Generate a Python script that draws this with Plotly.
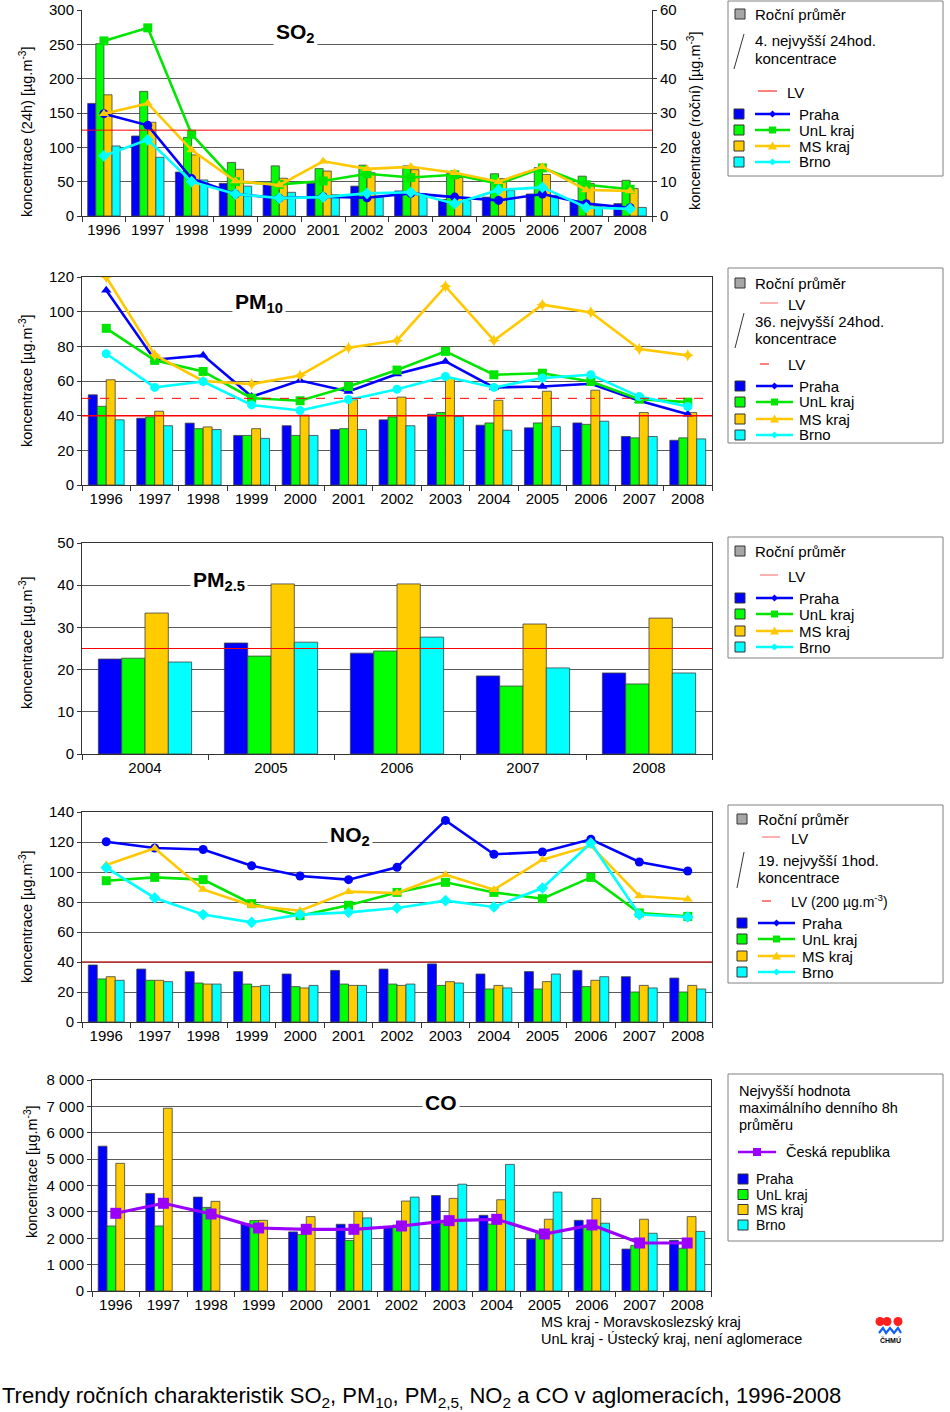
import plotly.graph_objects as go

W, H = 950, 1412
FONT = "Liberation Sans, Arial, sans-serif"

years = [str(y) for y in range(1996, 2009)]
pm25_years = ["2004", "2005", "2006", "2007", "2008"]
cities = ["Praha", "UnL kraj", "MS kraj", "Brno"]

# ---------------- SO2 ----------------
so2_mean_praha = [32.8, 23.3, 12.8, 9.5, 9.6, 9.5, 8.7, 7.3, 4.8, 5.5, 6.4, 4.2, 3.6]
so2_mean_unl = [50.2, 36.3, 22.9, 15.6, 14.6, 13.8, 14.8, 14.6, 12.4, 12.3, 14.1, 11.6, 10.4]
so2_mean_ms = [35.3, 27.3, 17.8, 13.6, 11.0, 13.1, 12.6, 13.5, 11.2, 10.9, 12.1, 9.5, 8.0]
so2_mean_brno = [20.4, 17.1, 10.5, 8.7, 6.9, 6.2, 5.8, 6.5, 4.5, 7.4, 6.0, 2.7, 2.5]
so2_4th_praha = [149, 132, 54.5, 32, 26, 28, 26.5, 33, 27.5, 22.7, 32, 18, 12]
so2_4th_unl = [255, 274, 119, 50, 46, 51, 61.6, 56, 60, 47, 70, 45.5, 39]
so2_4th_ms = [149, 164, 96, 51, 45, 79.6, 68.7, 71.6, 63, 50, 71.6, 38, 36.5]
so2_4th_brno = [87.7, 111, 50, 32, 26, 27.5, 33, 34.6, 18, 38, 41.7, 12.3, 10.4]
so2_lv_24h = 125

# ---------------- PM10 ----------------
pm10_mean_praha = [52.0, 38.5, 35.7, 28.6, 34.2, 32.0, 37.6, 40.8, 34.5, 33.0, 35.8, 28.0, 25.8]
pm10_mean_unl = [45.4, 39.3, 32.5, 28.6, 28.6, 32.5, 39.3, 41.8, 35.8, 35.8, 35.0, 27.2, 27.2]
pm10_mean_ms = [60.7, 42.6, 33.5, 32.5, 40.3, 49.2, 50.7, 61.7, 48.9, 54.1, 54.7, 41.8, 41.8]
pm10_mean_brno = [37.6, 34.2, 32.0, 26.9, 28.6, 32.0, 34.2, 39.5, 31.6, 33.7, 36.8, 28.0, 26.6]
pm10_36th_praha = [112.3, 72.3, 74.8, 51.0, 60.3, 54.0, 64.0, 71.3, 56.3, 56.8, 58.4, 48.6, 40.8]
pm10_36th_unl = [90.4, 71.9, 65.5, 50.1, 48.6, 56.8, 66.3, 77.1, 63.6, 64.5, 59.7, 49.5, 47.8]
pm10_36th_ms = [120.0, 75.0, 60.0, 58.2, 63.2, 79.2, 83.4, 114.6, 83.4, 104.0, 99.6, 78.4, 74.8]
pm10_36th_brno = [75.7, 56.3, 59.7, 46.2, 43.0, 49.3, 55.3, 62.6, 56.3, 61.7, 63.6, 51.0, 45.3]
pm10_lv_year = 40
pm10_lv_24h = 50

# ---------------- PM2.5 ----------------
pm25_mean_praha = [22.5, 26.3, 23.9, 18.5, 19.2]
pm25_mean_unl = [22.7, 23.2, 24.4, 16.1, 16.6]
pm25_mean_ms = [33.4, 40.3, 40.3, 30.8, 32.2]
pm25_mean_brno = [21.8, 26.5, 27.7, 20.4, 19.2]
pm25_lv = 25

# ---------------- NO2 ----------------
no2_mean_praha = [38.0, 35.3, 33.6, 33.6, 32.0, 34.4, 35.3, 38.7, 32.0, 33.6, 34.4, 30.2, 29.3]
no2_mean_unl = [28.7, 27.8, 26.0, 25.3, 23.6, 25.3, 25.3, 24.4, 22.0, 22.0, 23.6, 20.0, 20.0]
no2_mean_ms = [30.2, 27.8, 25.3, 23.6, 22.7, 24.4, 24.4, 26.9, 24.4, 26.9, 27.8, 24.4, 24.4]
no2_mean_brno = [27.8, 26.9, 25.3, 24.4, 24.4, 24.4, 25.3, 26.0, 22.7, 32.0, 30.2, 22.7, 22.0]
no2_19th_praha = [120.2, 116.0, 115.0, 104.2, 97.3, 94.9, 103.1, 134.4, 111.8, 113.3, 121.8, 106.7, 100.7]
no2_19th_unl = [94.2, 96.4, 94.9, 78.9, 70.9, 77.8, 86.4, 93.1, 86.4, 82.2, 96.4, 72.7, 70.4]
no2_19th_ms = [104.7, 115.8, 88.4, 77.6, 74.2, 86.9, 86.0, 98.2, 88.2, 108.2, 117.6, 84.0, 81.8]
no2_19th_brno = [102.9, 82.7, 71.6, 66.4, 71.6, 73.1, 76.0, 80.9, 76.7, 89.3, 119.3, 71.6, 70.0]
no2_lv_year = 40

# ---------------- CO ----------------
co_max8h_praha = [5490, 3700, 3560, 2550, 2240, 2530, 2400, 3620, 2870, 1970, 2680, 1590, 1920]
co_max8h_unl = [2465, 2465, 3170, 2670, 2140, 1920, 2500, 2550, 2540, 2170, 2440, 1730, 1620]
co_max8h_ms = [4840, 6930, 3400, 2680, 2820, 3020, 3410, 3510, 3460, 2720, 3510, 2720, 2820]
co_max8h_brno = [None, None, None, None, None, 2770, 3560, 4050, 4800, 3750, 2570, 2190, 2260]
co_max8h_cr = [2946, 3325, 2920, 2389, 2339, 2339, 2465, 2667, 2718, 2162, 2503, 1820, 1820]

# ---------------- styling ----------------
BAR_COL = {"Praha": "#0000ff", "UnL kraj": "#00ff00", "MS kraj": "#ffcc00", "Brno": "#00ffff"}
LINE_COL = {"Praha": "#0000ff", "UnL kraj": "#00e600", "MS kraj": "#ffc800", "Brno": "#00ffff"}
GRID = "#5a5a5a"
AXC = "#333333"
PURPLE = "#9900ff"


def px(x):
    return x / W


def py(y):
    return 1 - y / H


fig = go.Figure()


def add_bars(xs, series, xa, ya):
    for name, vals in zip(cities, series):
        fig.add_trace(go.Bar(
            x=xs, y=vals, name=name, xaxis=xa, yaxis=ya, showlegend=False,
            marker=dict(color=BAR_COL[name], line=dict(color="#404040", width=0.8)),
        ))


def add_lines(xs, series, symbols, xa, ya):
    for name, vals, sym in zip(cities, series, symbols):
        fig.add_trace(go.Scatter(
            x=xs, y=vals, name=name, xaxis=xa, yaxis=ya, showlegend=False,
            mode="lines+markers",
            line=dict(color=LINE_COL[name], width=2.6),
            marker=dict(symbol=sym, size=9, color=LINE_COL[name]),
        ))


# Panel 1: SO2 (bars on right axis y, lines on left axis y2 overlay)
add_bars(years, [so2_mean_praha, so2_mean_unl, so2_mean_ms, so2_mean_brno], "x", "y")
add_lines(years, [so2_4th_praha, so2_4th_unl, so2_4th_ms, so2_4th_brno],
          ["circle", "square", "triangle-up", "diamond"], "x", "y2")

# Panel 2: PM10
add_bars(years, [pm10_mean_praha, pm10_mean_unl, pm10_mean_ms, pm10_mean_brno], "x2", "y3")
add_lines(years, [pm10_36th_praha, pm10_36th_unl, pm10_36th_ms, pm10_36th_brno],
          ["triangle-up", "square", "star-diamond", "circle"], "x2", "y3")

# Panel 3: PM2.5
add_bars(pm25_years, [pm25_mean_praha, pm25_mean_unl, pm25_mean_ms, pm25_mean_brno], "x3", "y4")

# Panel 4: NO2
add_bars(years, [no2_mean_praha, no2_mean_unl, no2_mean_ms, no2_mean_brno], "x4", "y5")
add_lines(years, [no2_19th_praha, no2_19th_unl, no2_19th_ms, no2_19th_brno],
          ["circle", "square", "triangle-up", "diamond"], "x4", "y5")

# Panel 5: CO
add_bars(years, [co_max8h_praha, co_max8h_unl, co_max8h_ms, co_max8h_brno], "x5", "y6")
fig.add_trace(go.Scatter(
    x=years, y=co_max8h_cr, name="Česká republika", xaxis="x5", yaxis="y6", showlegend=False,
    mode="lines+markers", line=dict(color=PURPLE, width=3.2),
    marker=dict(symbol="square", size=11, color=PURPLE),
))

tickfont = dict(family=FONT, size=15, color="black")
NY = len(years)


def xax(domain, anchor, n, mirror=True):
    return dict(domain=domain, anchor=anchor, type="category", tickson="boundaries",
                range=[-0.5, n - 0.5], autorange=False, automargin=False,
                ticks="outside", ticklen=5, tickcolor=AXC, showline=True, linecolor=AXC,
                linewidth=1, mirror=mirror, showgrid=False, tickfont=tickfont, tickangle=0,
                ticklabeloverflow="allow", fixedrange=True)


def yax(domain, anchor, rng, dtick, **kw):
    d = dict(domain=domain, anchor=anchor, range=rng, dtick=dtick, tick0=0, ticks="outside",
             ticklen=4, tickcolor=AXC, showline=True, linecolor=AXC, linewidth=1,
             showgrid=True, gridcolor=GRID, gridwidth=1, zeroline=False, tickfont=tickfont,
             automargin=False, ticklabeloverflow="allow", fixedrange=True)
    d.update(kw)
    return d


SO2_TOP = 10
fig.update_layout(
    width=W, height=H, margin=dict(l=0, r=0, t=0, b=0, pad=0, autoexpand=False), autosize=False,
    paper_bgcolor="white", plot_bgcolor="white",
    font=dict(family=FONT, size=15, color="black"),
    barmode="group", bargap=0.26, bargroupgap=0,
    separators=". ",
    xaxis=xax([px(82), px(652)], "y", NY, mirror=False),
    yaxis=yax([py(216), py(SO2_TOP)], "x", [0, 60], 10, side="right"),
    yaxis2=yax([py(216), py(SO2_TOP)], "x", [0, 300], 50, side="left", overlaying="y", showgrid=False),
    xaxis2=xax([px(82), px(712)], "y3", NY),
    yaxis3=yax([py(485), py(277)], "x2", [0, 120], 20, mirror=True),
    xaxis3=xax([px(82), px(712)], "y4", len(pm25_years)),
    yaxis4=yax([py(754), py(543)], "x3", [0, 50], 10, mirror=True),
    xaxis4=xax([px(82), px(712)], "y5", NY),
    yaxis5=yax([py(1022), py(812)], "x4", [0, 140], 20, mirror=True),
    xaxis5=xax([px(92), px(711)], "y6", NY),
    yaxis6=yax([py(1291), py(1080)], "x5", [0, 8000], 1000, mirror=True, tickformat=",d"),
)


# limit value lines
def hline(yref, xref, yv, color="#ff0000", dash="solid", width=1):
    fig.add_shape(type="line", xref=xref + " domain", yref=yref, x0=0, x1=1, y0=yv, y1=yv,
                  line=dict(color=color, width=width, dash=dash))


hline("y2", "x", so2_lv_24h)
hline("y3", "x2", pm10_lv_year, width=1.5)
hline("y3", "x2", pm10_lv_24h, dash="dash")
hline("y4", "x3", pm25_lv)
hline("y5", "x4", no2_lv_year, color="#c03030", width=1.3)


# panel titles (white box breaks the gridline)
def title(x, y, text):
    fig.add_annotation(xref="paper", yref="paper", x=px(x), y=py(y), text=text,
                       showarrow=False, xanchor="center", yanchor="middle",
                       bgcolor="white", borderpad=2,
                       font=dict(family=FONT, size=21, color="black"))


title(295, 33, "<b>SO<sub>2</sub></b>")
title(259, 303, "<b>PM<sub>10</sub></b>")
title(219, 581, "<b>PM<sub>2.5</sub></b>")
title(350, 836, "<b>NO<sub>2</sub></b>")
title(441, 1102, "<b>CO</b>")


# axis titles
def vtitle(x, y, text):
    fig.add_annotation(xref="paper", yref="paper", x=px(x), y=py(y), text=text,
                       showarrow=False, textangle=-90, xanchor="center", yanchor="middle",
                       font=dict(family=FONT, size=14.5, color="black"))


vtitle(26, 132, "koncentrace (24h) [µg.m<sup>-3</sup>]")
vtitle(694, 121, "koncentrace (roční) [µg.m<sup>-3</sup>]")
vtitle(26, 381, "koncentrace [µg.m<sup>-3</sup>]")
vtitle(26, 643, "koncentrace [µg.m<sup>-3</sup>]")
vtitle(26, 917, "koncentrace [µg.m<sup>-3</sup>]")
vtitle(31, 1172, "koncentrace [µg.m<sup>-3</sup>]")


# ---------------- legends (drawn boxes) ----------------
def box(x0, y0, x1, y1):
    fig.add_shape(type="rect", xref="paper", yref="paper", x0=px(x0), x1=px(x1),
                  y0=py(y1), y1=py(y0), line=dict(color="#808080", width=1), fillcolor="white",
                  layer="below")


def sq(x, y, color, s=10):
    fig.add_shape(type="rect", xref="paper", yref="paper", x0=px(x), x1=px(x + s),
                  y0=py(y + s / 2), y1=py(y - s / 2), fillcolor=color,
                  line=dict(color="#333333", width=1))


def txt(x, y, text, size=15):
    fig.add_annotation(xref="paper", yref="paper", x=px(x), y=py(y), text=text,
                       showarrow=False, xanchor="left", yanchor="middle",
                       font=dict(family=FONT, size=size, color="black"))


def seg(x0, y0, x1, y1, color, width=2.5, dash="solid"):
    fig.add_shape(type="line", xref="paper", yref="paper", x0=px(x0), x1=px(x1),
                  y0=py(y0), y1=py(y1), line=dict(color=color, width=width, dash=dash))


def mk(x, y, color, kind="circle", r=3.5):
    if kind == "square":
        fig.add_shape(type="rect", xref="paper", yref="paper", x0=px(x - r), x1=px(x + r),
                      y0=py(y + r), y1=py(y - r), fillcolor=color, line=dict(width=0))
    elif kind == "triangle":
        path = "M {} {} L {} {} L {} {} Z".format(px(x - r - 1), py(y + r), px(x + r + 1), py(y + r),
                                                  px(x), py(y - r - 1))
        fig.add_shape(type="path", xref="paper", yref="paper", path=path,
                      fillcolor=color, line=dict(width=0))
    elif kind == "diamond":
        path = "M {} {} L {} {} L {} {} L {} {} Z".format(px(x - r), py(y), px(x), py(y - r),
                                                          px(x + r), py(y), px(x), py(y + r))
        fig.add_shape(type="path", xref="paper", yref="paper", path=path,
                      fillcolor=color, line=dict(width=0))
    else:
        fig.add_shape(type="circle", xref="paper", yref="paper", x0=px(x - r), x1=px(x + r),
                      y0=py(y + r), y1=py(y - r), fillcolor=color, line=dict(width=0))


def city_rows(ys, sqx, lx0, lx1, tx, kinds, with_lines=True, size=15):
    for name, yy, kind in zip(cities, ys, kinds):
        sq(sqx, yy, BAR_COL[name])
        if with_lines:
            seg(lx0, yy, lx1, yy, LINE_COL[name], width=2.5)
            mk((lx0 + lx1) / 2, yy, LINE_COL[name], kind)
        txt(tx, yy, name, size=size)


GRAY = "#a6a6a6"
# Legend 1 (SO2)
box(728, 1, 943, 176)
sq(735, 14, GRAY)
txt(753, 14, "Roční průměr")
seg(744, 34, 734, 69, "#333333", width=1)
txt(753, 41, "4. nejvyšší 24hod.")
txt(753, 58, "koncentrace")
seg(758, 91, 777, 91, "#ff0000", width=1)
txt(785, 92, "LV")
city_rows([114, 130, 146, 162], 734, 755, 790, 797, ["diamond", "square", "triangle", "diamond"])

# Legend 2 (PM10)
box(728, 268, 943, 443)
sq(735, 283, GRAY)
txt(753, 283, "Roční průměr")
seg(760, 303, 778, 303, "#ff6060", width=1)
txt(786, 304, "LV")
seg(744, 313, 735, 348, "#333333", width=1)
txt(753, 321, "36. nejvyšší 24hod.")
txt(753, 338, "koncentrace")
seg(760, 364, 778, 364, "#ff0000", width=1, dash="dash")
txt(786, 364, "LV")
city_rows([386, 402, 419, 435], 735, 756, 793, 797, ["diamond", "square", "triangle", "diamond"])

# Legend 3 (PM2.5)
box(728, 537, 943, 658)
sq(735, 551, GRAY)
txt(753, 551, "Roční průměr")
seg(760, 575, 778, 575, "#ff6060", width=1)
txt(786, 576, "LV")
city_rows([598, 614, 631, 647], 735, 756, 793, 797, ["diamond", "square", "triangle", "diamond"])

# Legend 4 (NO2)
box(728, 805, 943, 983)
sq(737, 819, GRAY)
txt(756, 819, "Roční průměr")
seg(762, 837, 780, 837, "#ff6060", width=1)
txt(789, 838, "LV")
seg(744, 852, 737, 888, "#333333", width=1)
txt(756, 860, "19. nejvyšší 1hod.")
txt(756, 877, "koncentrace")
seg(762, 901, 780, 901, "#ff0000", width=1, dash="dash")
txt(789, 901, "LV (200 µg.m<sup>-3</sup>)", size=14)
city_rows([923, 939, 956, 972], 737, 758, 795, 800, ["diamond", "square", "triangle", "diamond"])

# Legend 5 (CO)
box(728, 1074, 943, 1241)
txt(737, 1091, "Nejvyšší hodnota", size=14.5)
txt(737, 1108, "maximálního denního 8h", size=14.5)
txt(737, 1125, "průměru", size=14.5)
seg(738, 1152, 776, 1152, PURPLE, width=2.5)
mk(757, 1152, PURPLE, "square", r=4)
txt(784, 1152, "Česká republika", size=14.5)
city_rows([1179, 1194.5, 1209.5, 1225], 738, 0, 0, 754, [None] * 4, with_lines=False, size=14)

# footnotes
txt(539, 1322, "MS kraj - Moravskoslezský kraj", size=14.5)
txt(539, 1339, "UnL kraj - Ústecký kraj, není aglomerace", size=14.5)
fig.add_annotation(xref="paper", yref="paper", x=px(0), y=py(1397),
                   text="Trendy ročních charakteristik SO<sub>2</sub>, PM<sub>10</sub>, PM<sub>2,5,</sub> NO<sub>2</sub> a CO v aglomeracích, 1996-2008",
                   showarrow=False, xanchor="left", yanchor="middle",
                   font=dict(family=FONT, size=22, color="black"))

# CHMU logo (decorative)
for cx in (880, 887, 898):
    fig.add_shape(type="circle", xref="paper", yref="paper", x0=px(cx - 4.5), x1=px(cx + 4.5),
                  y0=py(1326), y1=py(1317), fillcolor="#ff2020", line=dict(width=0))
fig.add_shape(type="path", xref="paper", yref="paper",
              path="M {} {} L {} {} L {} {} L {} {} L {} {} L {} {} L {} {}".format(
                  px(879), py(1333), px(883), py(1328), px(886), py(1333), px(890), py(1328),
                  px(894), py(1333), px(898), py(1328), px(901), py(1333)),
              line=dict(color="#1060ff", width=2.2))
fig.add_annotation(xref="paper", yref="paper", x=px(890), y=py(1340), text="<b>ČHMÚ</b>",
                   showarrow=False, xanchor="center", yanchor="middle",
                   font=dict(family=FONT, size=7, color="black"))

POST = ("document.documentElement.style.margin='0';document.documentElement.style.padding='0';"
        "document.documentElement.style.overflow='hidden';"
        "document.body.style.margin='0';document.body.style.padding='0';"
        "document.body.style.overflow='hidden';"
        "var g=document.getElementById('{plot_id}');g.style.position='fixed';"
        "g.style.left='0px';g.style.top='0px';")

fig.write_html("out.html", config={"displayModeBar": False, "responsive": False},
               post_script=POST)
